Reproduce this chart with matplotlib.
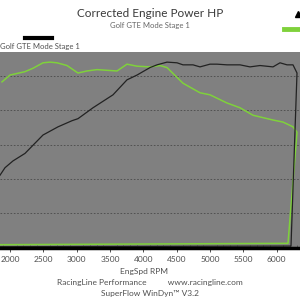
import matplotlib.pyplot as plt
from matplotlib.lines import Line2D
from matplotlib.ticker import MultipleLocator

# black series: power curve (rpm, HP), then run-down path at zero
black_rpm = [1850, 1925, 2045, 2225, 2495, 2720, 2930, 3020, 3245, 3545, 3755, 3905,
             4100, 4205, 4355, 4505, 4595, 4745, 4850, 5000, 5105, 5255, 5450, 5600,
             5750, 5945, 6050, 6155, 6245, 6305, 6215, 1850]
black_hp = [105, 116, 126, 137, 164, 176, 185, 188, 204, 223, 245, 252,
            263, 267, 271, 270, 267, 267, 264, 268, 268, 267, 267, 264,
            266, 264, 270, 267, 267, 255, 1, 0]

# green series
green_rpm = [1880, 2000, 2225, 2345, 2495, 2600, 2705, 2855, 3020, 3155, 3305, 3605,
             3755, 3905, 4100, 4250, 4355, 4595, 4850, 5000, 5255, 5450, 5645, 5945,
             6095, 6245, 6305, 6170, 1850]
green_hp = [242, 252, 257, 262, 270, 271, 270, 266, 255, 258, 260, 258,
            268, 265, 264, 266, 263, 240, 226, 223, 211, 204, 193, 186,
            183, 176, 168, 5, 3]

title = "Corrected Engine Power HP"
subtitle = "Golf GTE Mode Stage 1"
series_name = "Golf GTE Mode Stage 1"
xticks = [2000, 2500, 3000, 3500, 4000, 4500, 5000, 5500, 6000]

plt.rcParams['font.family'] = ['Lato', 'DejaVu Sans']
green = '#7fd13b'
txt = '#505050'

fig = plt.figure(figsize=(3, 3), dpi=100)
ax = fig.add_axes([0.0, 0.173, 1.0, 0.654])
ax.set_facecolor('#808080')

ax.plot(green_rpm, green_hp, color=green, lw=1.1)
ax.plot(black_rpm, black_hp, color='#222222', lw=0.9)

ax.set_xlim(1850, 6350)
ax.set_ylim(-2, 286)
ax.set_yticks([50, 100, 150, 200, 250])
ax.yaxis.grid(True, color='#4a4a4a', ls=(0, (2, 2)), lw=0.6)
ax.tick_params(axis='y', left=False, labelleft=False)

ax.set_xticks(xticks)
ax.xaxis.set_minor_locator(MultipleLocator(100))
ax.tick_params(axis='x', which='major', direction='out', length=3, width=0.6,
               color='#333333', labelsize=6, labelcolor=txt, pad=3)
ax.tick_params(axis='x', which='minor', direction='in', length=2.5, width=0.5,
               color='#444444')

for s in ['left', 'right', 'top']:
    ax.spines[s].set_visible(False)
ax.spines['bottom'].set_color('black')
ax.spines['bottom'].set_linewidth(2.5)

fig.text(0.5, 0.955, title, ha='center', va='center', fontsize=8.5, color='#3a3a3a')
fig.text(0.5, 0.915, subtitle, ha='center', va='center', fontsize=5.5, color='#666666')

# legend entries (partly outside the figure on the right)
fig.add_artist(Line2D([0.083, 0.173], [0.872, 0.872], color='black', lw=3))
fig.text(0.0, 0.845, series_name, ha='left', va='center', fontsize=5.5, color=txt)
fig.add_artist(Line2D([0.948, 1.0], [0.905, 0.905], color=green, lw=3.5))
fig.add_artist(Line2D([0.993], [0.955], marker='^', color='black', ms=5, lw=0))

fig.text(0.48, 0.095, "EngSpd RPM", ha='center', va='center', fontsize=6, color=txt)
fig.text(0.5, 0.06, "RacingLine Performance          www.racingline.com",
         ha='center', va='center', fontsize=6, color=txt)
fig.text(0.5, 0.023, "SuperFlow WinDyn\u2122 V3.2", ha='center', va='center',
         fontsize=6, color=txt)

fig.savefig('out.png', dpi=100)
